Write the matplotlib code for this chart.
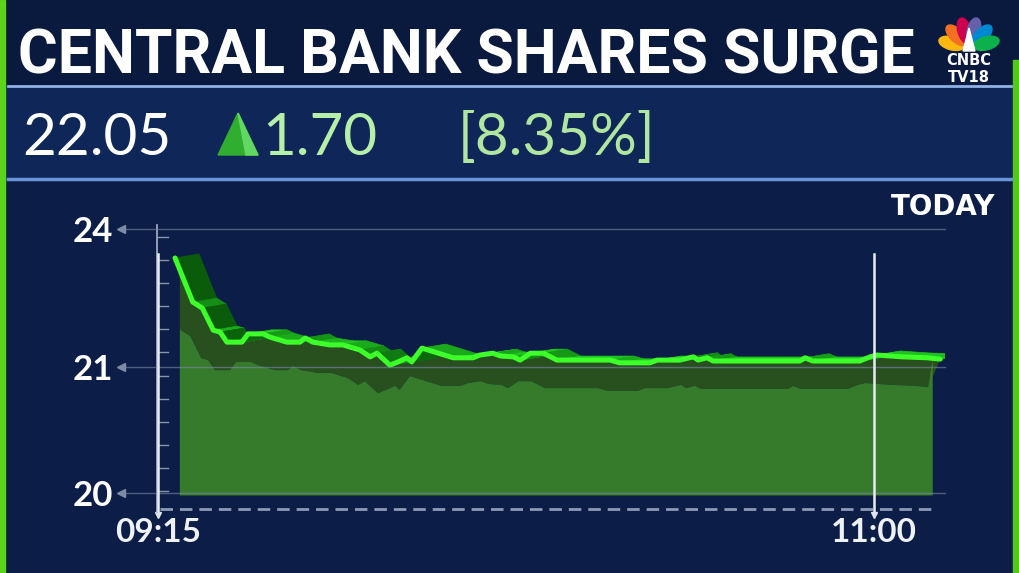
import numpy as np
import matplotlib
matplotlib.use('Agg')
from matplotlib import pyplot as plt
from matplotlib.patches import Rectangle, Polygon, Ellipse
from matplotlib.collections import PolyCollection
from matplotlib.colors import to_rgb

# values (minutes after 09:15, share price)
minutes = [2.5, 5.1, 6.5, 8.1, 9.1, 10.1, 12.3, 13.2, 15.4, 16.4,
           18.9, 20.8, 21.6, 22.7, 25.2, 27.1, 29.6, 31.1, 32.1, 34.0,
           35.5, 36.5, 37.2, 38.7, 43.3, 46.2, 47.2, 49.1, 50.2, 52.1,
           53.1, 54.6, 56.5, 58.5, 66.3, 67.7, 72.1, 73.2, 76.5, 78.5,
           79.2, 80.5, 81.4, 94.1, 94.9, 96.0, 102.9, 104.4, 105.4, 109.2,
           112.8, 114.7]
price = [23.37, 22.41, 22.28, 21.80, 21.76, 21.54, 21.54, 21.72, 21.72, 21.65,
         21.54, 21.54, 21.63, 21.54, 21.48, 21.48, 21.37, 21.22, 21.30, 21.04,
         21.13, 21.20, 21.11, 21.41, 21.20, 21.20, 21.26, 21.30, 21.24, 21.22,
         21.15, 21.30, 21.30, 21.15, 21.15, 21.09, 21.09, 21.15, 21.15, 21.22,
         21.15, 21.20, 21.13, 21.13, 21.20, 21.13, 21.13, 21.22, 21.26, 21.22,
         21.20, 21.17]
fill_start, fill_end, base = 3.2, 113.6, 19.98
ytick_vals = [20, 21, 24]
xtick_vals = [0, 105]
xtick_labels = ['09:15', '11:00']
last, change, pct = '22.05', '1.70', '[8.35%]'
title = 'CENTRAL BANK SHARES SURGE'

navy = '#0c1e47'
W, H = 1019, 573
fig = plt.figure(figsize=(W / 100, H / 100), dpi=100)
fig.patch.set_facecolor(navy)

# background / decoration layer in pixel units
bg = fig.add_axes([0, 0, 1, 1], zorder=0)
bg.set_xlim(0, W)
bg.set_ylim(H, 0)
bg.axis('off')
bg.add_patch(Rectangle((0, 0), W, 84, color='#0a1a3e'))
bg.add_patch(Rectangle((6, 85), W - 12, 95, facecolor='#0f2658', edgecolor='none'))
bg.plot([8, W - 8], [86, 86], color='#8fb0e3', lw=2)
bg.plot([8, W - 8], [179, 179], color='#6a94d8', lw=2.5)
bg.add_patch(Rectangle((0, 0), 5, H, color='#5cd41c'))
bg.add_patch(Rectangle((W - 6, 60), 6, H - 60, color='#52c81a'))

tt = bg.text(18, 73, title, color='white', fontsize=49, family='Roboto',
             fontweight='bold', va='baseline', ha='left')
# squeeze to the width of the banner
fig.canvas.draw()
bb = tt.get_window_extent()
if bb.width > 897:
    tt.set_fontsize(49 * 897 / bb.width)

bg.text(22, 155, last, color='white', fontsize=42, family='Lato', va='baseline')
bg.add_patch(Polygon([[218, 155], [238, 113], [258, 155]], closed=True, color='#2fae2f'))
bg.add_patch(Polygon([[238, 113], [258, 155], [246, 155]], closed=True, color='#62d862'))
bg.text(262, 155, change, color='#b6f0a8', fontsize=42, family='Lato', va='baseline')
bg.text(458, 155, pct, color='#b0e6a0', fontsize=42, family='Lato', va='baseline')

# peacock logo
cols = ['#fcb711', '#f37021', '#cc004c', '#6460aa', '#0089d0', '#0db14b']
for a, c in zip(np.linspace(165, 15, 6), cols):
    r = np.radians(a)
    bg.add_patch(Ellipse((969 + 18 * np.cos(r), 48 - 18 * np.sin(r)), 26, 13,
                         angle=-a, color=c))
bg.add_patch(Polygon([[963, 51], [969, 28], [975, 51]], closed=True, color='white'))
bg.text(969, 60.5, 'CNBC', color='white', fontsize=10.5, fontweight='bold', ha='center', va='center')
bg.text(969, 77, 'TV18', color='white', fontsize=10.5, fontweight='bold', ha='center', va='center')

bg.text(995, 215, 'TODAY', color='white', fontsize=20, fontweight='bold', ha='right', va='baseline')

# small inward ticks along the value axis and dashed time axis
for yy in np.linspace(237, 491, 12):
    bg.plot([158, 168], [yy, yy], color='#8893ad', lw=1)
bg.plot([160, 937], [509, 509], color='#8e9ab5', lw=2, ls=(0, (4.5, 2.5)))

# chart axes
x0, x1, y0, y1 = 157, 945, 225, 512
ax = fig.add_axes([x0 / W, (H - y1) / H, (x1 - x0) / W, (y1 - y0) / H], zorder=2)
ax.set_facecolor('none')


def fwd(v):
    v = np.asarray(v, float)
    return np.where(v <= 21, (v - 20) * 126.0, 126.0 + (v - 21) * 46.0)


def inv(u):
    u = np.asarray(u, float)
    return np.where(u <= 126, 20 + u / 126.0, 21 + (u - 126) / 46.0)


ax.set_yscale('function', functions=(fwd, inv))
ax.set_xlim(-0.15, 115.4)
ax.set_ylim(19.849, 24.087)

t = np.array(minutes)
p = np.array(price)
line_d = np.column_stack([t, p])
pts = ax.transData.transform(line_d)
back = ax.transData.inverted()
low = back.transform(pts + [-12, -28])
top = back.transform(pts + [24, 4])

# front face of the ribbon, cut at the left edge of the area
ml = t >= fill_start
mlow = low[:, 0] >= fill_start
front = [(fill_start, np.interp(fill_start, t, p))] + [tuple(v) for v in line_d[ml]]
front += [tuple(v) for v in low[mlow][::-1]]
front += [(fill_start, np.interp(fill_start, low[:, 0], low[:, 1]))]
ax.add_patch(Polygon(front, closed=True, facecolor='#28501f', edgecolor='none', zorder=2))

# area below
m = (low[:, 0] >= fill_start) & (low[:, 0] <= fill_end)
verts = [(fill_start, base), (fill_end, base), (fill_end, np.interp(fill_end, t, p))]
verts += [tuple(v) for v in low[m][::-1]]
verts += [(fill_start, np.interp(fill_start, low[:, 0], low[:, 1]))]
ax.add_patch(Polygon(verts, closed=True, facecolor='#367a2b', edgecolor='none', zorder=3))

# top face, darker where the line is steep
bright, dark = np.array(to_rgb('#20c820')), np.array(to_rgb('#0a5c0a'))
tq, tc = [], []
for i in range(len(t) - 1):
    d = pts[i + 1] - pts[i]
    w = min(1.0, np.degrees(np.arctan2(abs(d[1]), abs(d[0]) + 1e-9)) / 60.0)
    tq.append([line_d[i], line_d[i + 1], top[i + 1], top[i]])
    tc.append(bright * (1 - w) + dark * w)
ax.add_collection(PolyCollection(tq, facecolors=tc, edgecolors=tc, lw=0.5, zorder=4))

ax.plot(t, p, color='#3dff2a', lw=3.6, solid_joinstyle='round', solid_capstyle='round', zorder=5)

# value grid lines with arrow heads
yt = ax.get_yaxis_transform()
for v in ytick_vals:
    ax.plot([-0.044, 1.0], [v, v], color='#7b8aa8', lw=1, alpha=0.6, transform=yt,
            clip_on=False, zorder=6)
    ax.plot([-0.046], [v], marker='<', ms=6, color='#7f8aa5', transform=yt, clip_on=False)

# time markers
for xv in xtick_vals:
    ax.axvline(xv, ymin=0.0, ymax=0.9, color='#e8ecf4', lw=1.8, zorder=6)
ax.plot(xtick_vals, [-0.012] * 2, 'v', ms=5, color='#dfe4ee',
        transform=ax.get_xaxis_transform(), clip_on=False)

for s in ['top', 'right', 'bottom']:
    ax.spines[s].set_visible(False)
ax.spines['left'].set_color('#aab3c8')
ax.spines['left'].set_linewidth(1.2)

ax.set_yticks(ytick_vals)
ax.set_yticklabels([str(v) for v in ytick_vals])
ax.set_yticks([], minor=True)
ax.set_xticks(xtick_vals)
ax.set_xticklabels(xtick_labels)
ax.tick_params(axis='y', length=0, pad=32, labelcolor='white', labelsize=25)
ax.tick_params(axis='x', length=0, pad=4, labelcolor='#eef1f6', labelsize=24)
for lab in ax.get_yticklabels() + ax.get_xticklabels():
    lab.set_family('Lato')
    lab.set_fontweight('bold')

plt.savefig('out.png', dpi=100, facecolor=navy)
